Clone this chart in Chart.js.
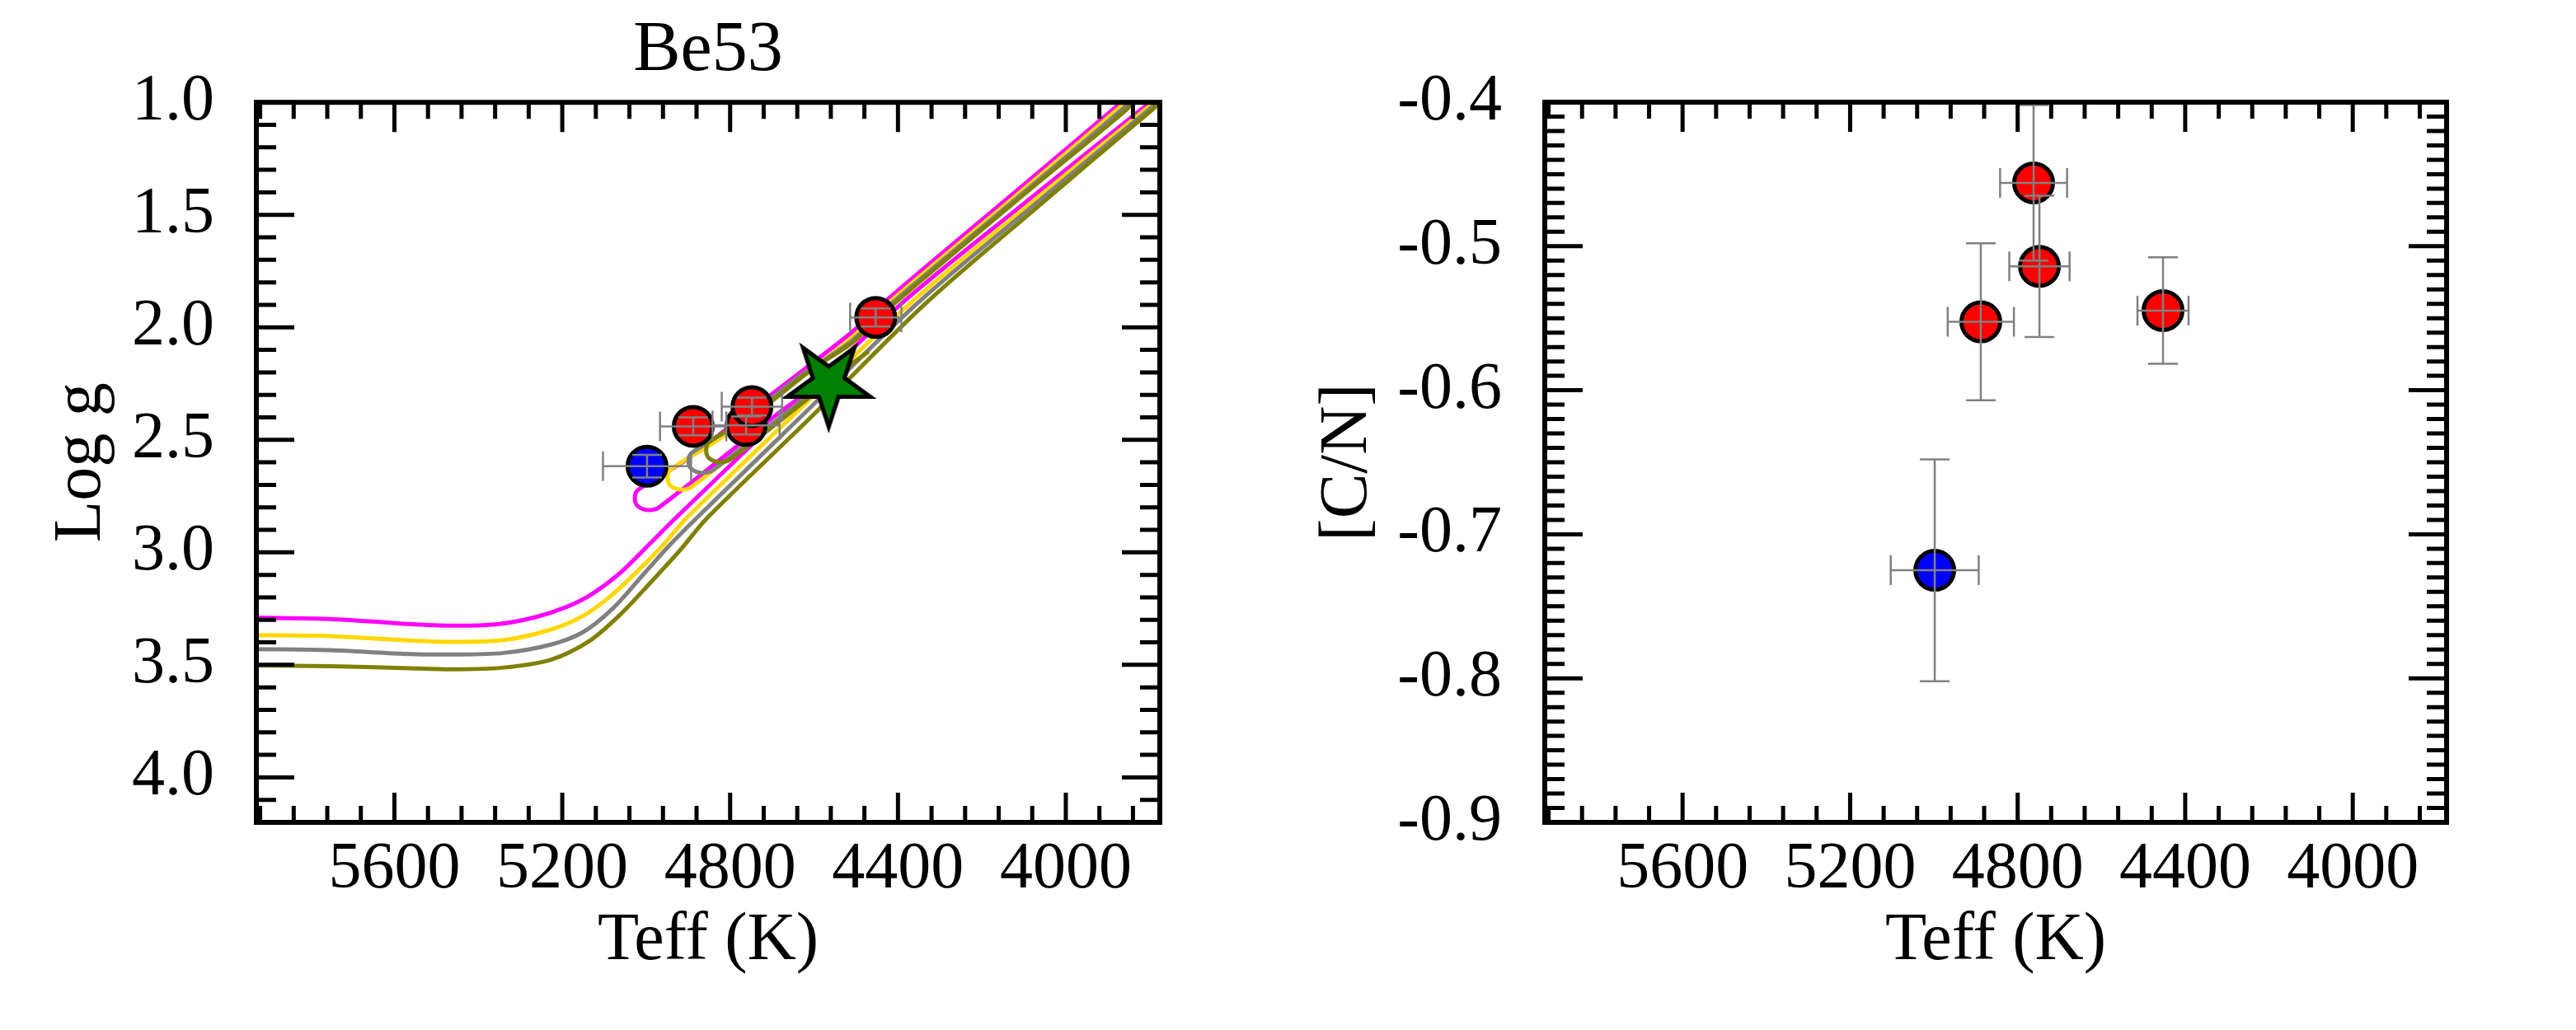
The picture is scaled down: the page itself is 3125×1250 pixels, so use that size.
<!DOCTYPE html>
<html>
<head>
<meta charset="utf-8">
<script src="https://cdn.jsdelivr.net/npm/chart.js@4"></script>
<style>
  html, body { margin: 0; padding: 0; background: #fff; }
  #left, #right { position: absolute; top: 0; }
  #left { left: 0; }
  #right { left: 1563px; }
</style>
</head>
<body>
<canvas id="left" width="1563" height="1250"></canvas>
<canvas id="right" width="1562" height="1250"></canvas>
<script>
// ---- data ----

// blue star (the hotter one)
const blueTeff = [4998];
const blueTeffErr = [105];
const blueLogg = [2.617];
const blueLoggErr = [0.05];
const blueCN = [-0.725];
const blueCNErr = [0.077];

// red stars
const redTeff = [4888, 4762, 4748, 4453];
const redTeffErr = [79, 80, 72, 61];
const redLogg = [2.44, 2.436, 2.352, 1.956];
const redLoggErr = [0.04, 0.04, 0.04, 0.04];
const redCN = [-0.5525, -0.456, -0.514, -0.5447];
const redCNErr = [0.0545, 0.054, 0.049, 0.037];

// green star marker
const starTeff = [4565];
const starLogg = [2.248];

// isochrones: [Teff, log g], subgiant + RGB part
const isoMagentaRgb = [[5930, 3.290], [5753, 3.296], [5580, 3.317], [5460, 3.326], [5354, 3.319], [5264, 3.288],
  [5189, 3.242], [5129, 3.185], [5061, 3.090], [4993, 2.965], [4929, 2.846], [4687, 2.413], [4392, 1.895],
  [4100, 1.45], [3822, 1.034], [3770, 0.96]];
const isoGoldRgb = [[5930, 3.368], [5753, 3.372], [5580, 3.390], [5460, 3.398], [5339, 3.390], [5227, 3.343],
  [5151, 3.283], [5085, 3.195], [5020, 3.082], [4960, 2.968], [4904, 2.848], [4662, 2.413], [4372, 1.895],
  [4085, 1.45], [3812, 1.034], [3762, 0.96]];
const isoGrayRgb = [[5930, 3.430], [5753, 3.435], [5580, 3.451], [5460, 3.454], [5339, 3.447], [5227, 3.410],
  [5151, 3.355], [5080, 3.250], [5010, 3.105], [4944, 2.968], [4879, 2.846], [4640, 2.413], [4355, 1.895],
  [4072, 1.45], [3803, 1.034], [3755, 0.96]];
const isoOliveRgb = [[5930, 3.502], [5753, 3.506], [5580, 3.514], [5460, 3.520], [5339, 3.512], [5227, 3.477],
  [5136, 3.395], [5061, 3.275], [4990, 3.135], [4920, 2.992], [4854, 2.846], [4615, 2.413], [4335, 1.895],
  [4058, 1.45], [3795, 1.034], [3745, 0.96]];

// isochrones: clump loop + AGB part
const isoMagentaClump = [[4640, 2.32], [4690, 2.389], [4968, 2.798], [4995, 2.812], [5020, 2.795], [5027, 2.765],
  [5021, 2.725], [4906, 2.590], [4750, 2.367], [4510, 2.022], [4425, 1.876], [4100, 1.366], [3878, 1.016], [3850, 0.97]];
const isoGoldClump = [[4575, 2.23], [4612, 2.298], [4890, 2.707], [4917, 2.721], [4942, 2.704], [4949, 2.674],
  [4943, 2.634], [4828, 2.499], [4672, 2.28], [4510, 2.045], [4425, 1.895], [4100, 1.385], [3870, 1.02], [3840, 0.97]];
const isoGrayClump = [[4512, 2.155], [4562, 2.224], [4840, 2.633], [4867, 2.647], [4892, 2.630], [4899, 2.600],
  [4893, 2.560], [4778, 2.425], [4640, 2.225], [4510, 2.06], [4425, 1.91], [4100, 1.40], [3865, 1.03], [3835, 0.97]];
const isoOliveClump = [[4470, 2.107], [4520, 2.176], [4798, 2.585], [4825, 2.599], [4850, 2.582], [4857, 2.552],
  [4851, 2.512], [4736, 2.377], [4600, 2.18], [4510, 2.07], [4425, 1.92], [4100, 1.41], [3860, 1.04], [3830, 0.98]];

// axes
const teffRange = [3776, 5929];
const loggRange = [1.0, 4.2];
const cnRange = [-0.9, -0.4];
const teffMajorTicks = [5600, 5200, 4800, 4400, 4000];
const teffMinorTicks = [5920, 5840, 5760, 5680, 5520, 5440, 5360, 5280, 5120, 5040, 4960, 4880,
  4720, 4640, 4560, 4480, 4320, 4240, 4160, 4080, 3920, 3840];
const loggMajorTicks = [1.0, 1.5, 2.0, 2.5, 3.0, 3.5, 4.0];
const loggMinorTicks = [1.1, 1.2, 1.3, 1.4, 1.6, 1.7, 1.8, 1.9, 2.1, 2.2, 2.3, 2.4, 2.6, 2.7, 2.8, 2.9,
  3.1, 3.2, 3.3, 3.4, 3.6, 3.7, 3.8, 3.9, 4.1];
const cnMajorTicks = [-0.4, -0.5, -0.6, -0.7, -0.8, -0.9];
const cnMinorTicks = [-0.41, -0.42, -0.43, -0.44, -0.45, -0.46, -0.47, -0.48, -0.49,
  -0.51, -0.52, -0.53, -0.54, -0.55, -0.56, -0.57, -0.58, -0.59,
  -0.61, -0.62, -0.63, -0.64, -0.65, -0.66, -0.67, -0.68, -0.69,
  -0.71, -0.72, -0.73, -0.74, -0.75, -0.76, -0.77, -0.78, -0.79,
  -0.81, -0.82, -0.83, -0.84, -0.85, -0.86, -0.87, -0.88, -0.89];

// ---- styling ----
const FONT = "'Liberation Serif', 'Times New Roman', serif";
Chart.defaults.font.family = FONT;
Chart.defaults.color = '#000';

const toXY = arr => arr.map(p => ({x: p[0], y: p[1]}));
const zip = (xs, ys) => xs.map((v, i) => ({x: v, y: ys[i]}));

// inverted five-point star used as the point image
function makeStar(R, ratio, fill, lw) {
  const pad = 14;
  const c = document.createElement('canvas');
  c.width = c.height = Math.ceil(2 * (R + pad));
  const g = c.getContext('2d');
  g.translate(c.width / 2, c.height / 2);
  g.beginPath();
  for (let i = 0; i < 10; i++) {
    const r = i % 2 === 0 ? R : R * ratio;
    const a = Math.PI + i * Math.PI / 5;
    g.lineTo(r * Math.sin(a), -r * Math.cos(a));
  }
  g.closePath();
  g.fillStyle = fill;
  g.fill();
  g.lineJoin = 'miter';
  g.lineWidth = lw;
  g.strokeStyle = '#000';
  g.stroke();
  return c;
}

// inward ticks on all four sides plus the frame
const frameTicks = {
  id: 'frameTicks',
  afterDraw(chart, args, o) {
    const {ctx, chartArea: a, scales: {x, y}} = chart;
    ctx.save();
    ctx.strokeStyle = '#000';
    ctx.lineWidth = 5;
    ctx.beginPath();
    const xt = (vals, len) => vals.forEach(v => {
      const px = x.getPixelForValue(v);
      ctx.moveTo(px, a.bottom); ctx.lineTo(px, a.bottom - len);
      ctx.moveTo(px, a.top); ctx.lineTo(px, a.top + len);
    });
    const yt = (vals, len) => vals.forEach(v => {
      const py = y.getPixelForValue(v);
      ctx.moveTo(a.left, py); ctx.lineTo(a.left + len, py);
      ctx.moveTo(a.right, py); ctx.lineTo(a.right - len, py);
    });
    xt(o.xMajor, 36); xt(o.xMinor, 20);
    yt(o.yMajor, 46); yt(o.yMinor, 24);
    ctx.stroke();
    ctx.lineWidth = 6;
    ctx.strokeRect(a.left, a.top, a.right - a.left, a.bottom - a.top);
    ctx.restore();
  }
};

// gray error bars with caps, drawn over the markers
const errorBars = {
  id: 'errorBars',
  afterDatasetsDraw(chart) {
    const {ctx, scales: {x, y}} = chart;
    const cap = 18;
    ctx.save();
    ctx.strokeStyle = '#808080';
    ctx.lineWidth = 2.5;
    chart.data.datasets.forEach(ds => {
      if (!ds.errX) return;
      ds.data.forEach((p, i) => {
        const cx = x.getPixelForValue(p.x), cy = y.getPixelForValue(p.y);
        const x0 = x.getPixelForValue(p.x - ds.errX[i]), x1 = x.getPixelForValue(p.x + ds.errX[i]);
        const y0 = y.getPixelForValue(p.y - ds.errY[i]), y1 = y.getPixelForValue(p.y + ds.errY[i]);
        ctx.beginPath();
        ctx.moveTo(x0, cy); ctx.lineTo(x1, cy);
        ctx.moveTo(x0, cy - cap); ctx.lineTo(x0, cy + cap);
        ctx.moveTo(x1, cy - cap); ctx.lineTo(x1, cy + cap);
        ctx.moveTo(cx, y0); ctx.lineTo(cx, y1);
        ctx.moveTo(cx - cap, y0); ctx.lineTo(cx + cap, y0);
        ctx.moveTo(cx - cap, y1); ctx.lineTo(cx + cap, y1);
        ctx.stroke();
      });
    });
    ctx.restore();
  }
};

function isoLine(points, color, order) {
  return {
    data: toXY(points), showLine: true, borderColor: color, borderWidth: 5,
    pointRadius: 0, tension: 0.3, fill: false, order: order
  };
}

function dots(xs, ys, xe, ye, color) {
  return {
    data: zip(xs, ys), showLine: false, pointRadius: 23.5, pointBorderWidth: 5,
    pointBackgroundColor: color, pointBorderColor: '#000', errX: xe, errY: ye, order: 0
  };
}

function teffAxis() {
  return {
    type: 'linear', reverse: true, min: teffRange[0], max: teffRange[1],
    grid: {display: false}, border: {display: false},
    afterBuildTicks: s => { s.ticks = teffMajorTicks.map(v => ({value: v})); },
    afterFit: s => { s.height = 252; },
    ticks: {autoSkip: false, maxRotation: 0, padding: 2, font: {size: 80}, callback: v => String(v)},
    title: {display: true, text: 'Teff (K)', font: {size: 82}, padding: {top: 0, bottom: 58}}
  };
}

const common = {
  type: 'scatter',
  plugins: [frameTicks, errorBars]
};

// left panel: log g vs Teff
new Chart(document.getElementById('left'), {
  ...common,
  data: {
    datasets: [
      dots(blueTeff, blueLogg, blueTeffErr, blueLoggErr, '#0000ff'),
      dots(redTeff, redLogg, redTeffErr, redLoggErr, '#ff0000'),
      {data: zip(starTeff, starLogg), showLine: false, pointStyle: makeStar(53, 0.382, '#008000', 5),
       pointRadius: 50, order: 1},
      isoLine(isoOliveRgb, '#808000', 2),
      isoLine(isoOliveClump, '#808000', 2),
      isoLine(isoGrayRgb, '#808080', 3),
      isoLine(isoGrayClump, '#808080', 3),
      isoLine(isoGoldRgb, '#ffd700', 4),
      isoLine(isoGoldClump, '#ffd700', 4),
      isoLine(isoMagentaRgb, '#ff00ff', 5),
      isoLine(isoMagentaClump, '#ff00ff', 5)
    ]
  },
  options: {
    responsive: false, animation: false, devicePixelRatio: 1,
    layout: {padding: {left: 0, right: 156, top: 0, bottom: 0}},
    plugins: {
      legend: {display: false}, tooltip: {enabled: false},
      title: {display: true, fullSize: false, text: 'Be53', font: {size: 86, weight: 'normal'}, color: '#000',
              padding: {top: 11, bottom: 10}},
      frameTicks: {xMajor: teffMajorTicks, xMinor: teffMinorTicks, yMajor: loggMajorTicks, yMinor: loggMinorTicks}
    },
    scales: {
      x: teffAxis(),
      y: {
        type: 'linear', reverse: true, min: loggRange[0], max: loggRange[1],
        grid: {display: false}, border: {display: false},
        afterBuildTicks: s => { s.ticks = loggMajorTicks.map(v => ({value: v})); },
        afterFit: s => { s.width = 311; },
        ticks: {padding: 43, font: {size: 80}, callback: v => v.toFixed(1)},
        title: {display: true, text: 'Log g', font: {size: 82}, padding: {top: 50, bottom: 0}}
      }
    }
  }
});

// right panel: [C/N] vs Teff
new Chart(document.getElementById('right'), {
  ...common,
  data: {
    datasets: [
      dots(blueTeff, blueCN, blueTeffErr, blueCNErr, '#0000ff'),
      dots(redTeff, redCN, redTeffErr, redCNErr, '#ff0000')
    ]
  },
  options: {
    responsive: false, animation: false, devicePixelRatio: 1,
    layout: {padding: {left: 0, right: 157, top: 124, bottom: 0}},
    plugins: {
      legend: {display: false}, tooltip: {enabled: false},
      frameTicks: {xMajor: teffMajorTicks, xMinor: teffMinorTicks, yMajor: cnMajorTicks, yMinor: cnMinorTicks}
    },
    scales: {
      x: teffAxis(),
      y: {
        type: 'linear', min: cnRange[0], max: cnRange[1],
        grid: {display: false}, border: {display: false},
        afterBuildTicks: s => { s.ticks = cnMajorTicks.map(v => ({value: v})); },
        afterFit: s => { s.width = 311; },
        ticks: {padding: 44, font: {size: 80}, callback: v => v.toFixed(1)},
        title: {display: true, text: '[C/N]', font: {size: 82}, padding: {top: 23, bottom: 0}}
      }
    }
  }
});
</script>
</body>
</html>
